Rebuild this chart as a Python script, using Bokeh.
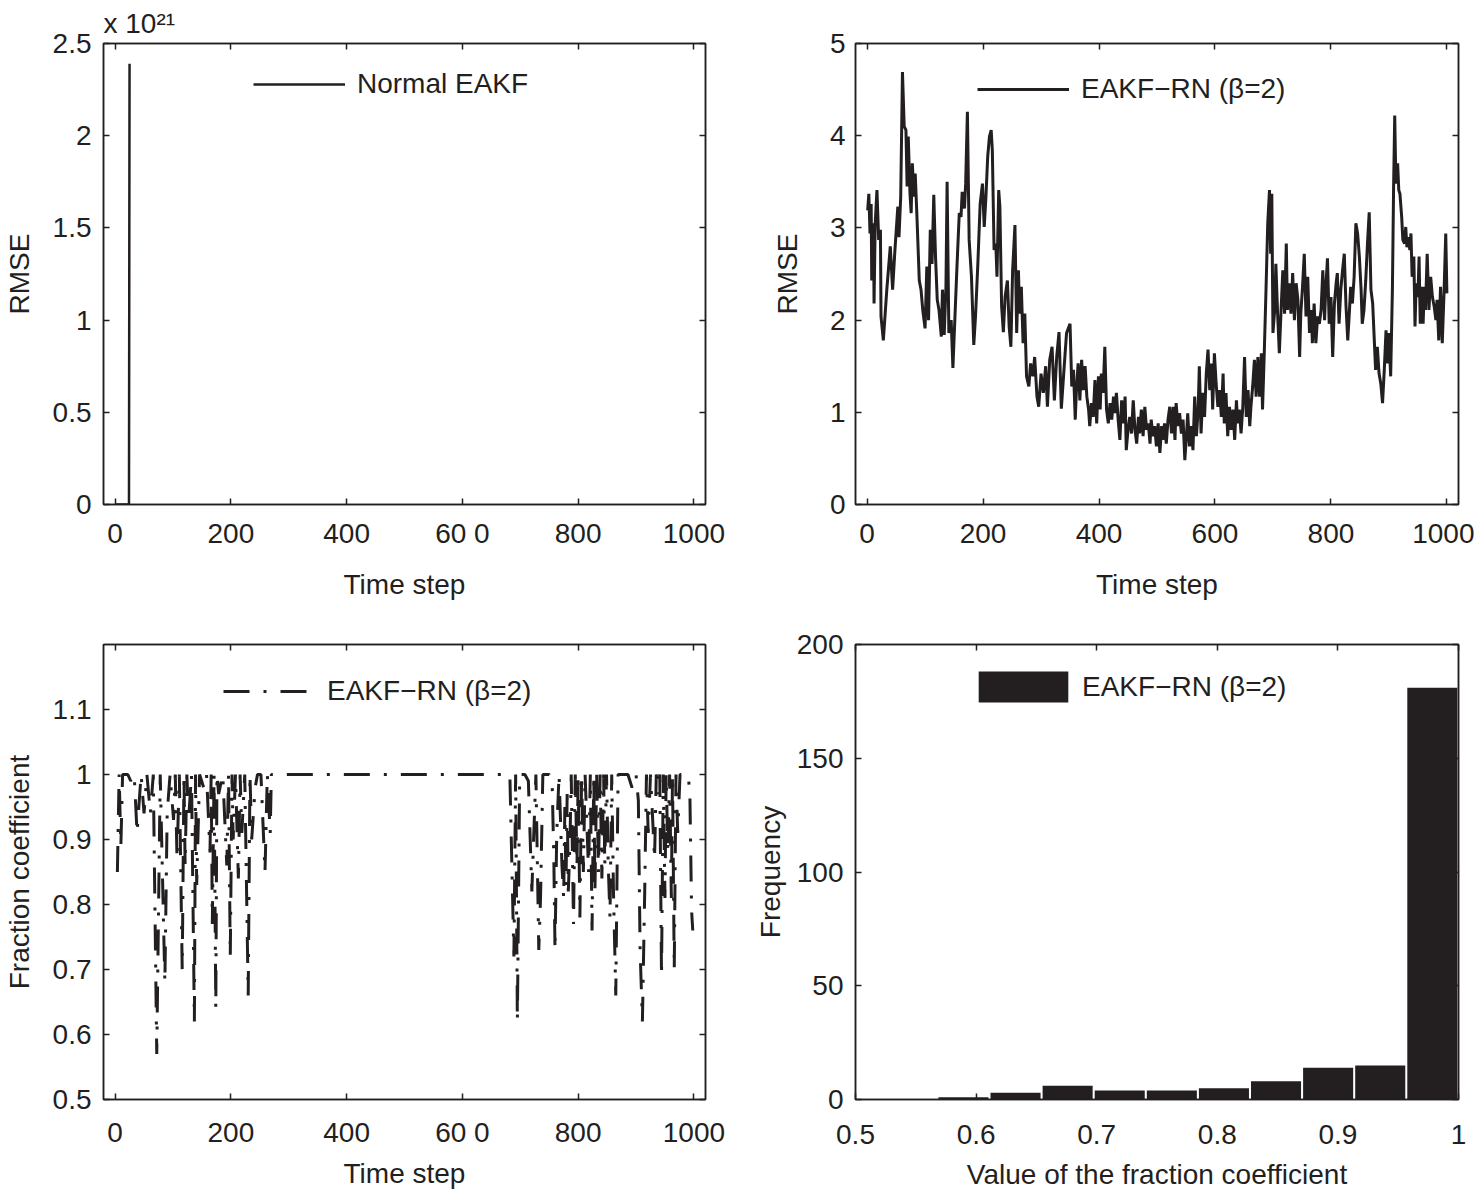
from bokeh.plotting import figure
from bokeh.layouts import column, row
from bokeh.models import (Range1d, FixedTicker, PrintfTickFormatter, CustomJSTickFormatter,
                          LinearAxis, Legend, LegendItem)
from bokeh.embed import file_html
from bokeh.resources import INLINE

INK = "#231f20"
FONT = "Liberation Sans"
FS = "28px"

time_ticks = [0, 200, 400, 600, 800, 1000]

# normal EAKF blows up after a few steps (values in absolute units, axis shows x 10^21)
normal_t = [1, 5, 10, 15, 20, 24, 25]
normal_rmse = [0, 0, 0, 0, 0, 0, 2.39e21]

# EAKF-RN (beta=2) RMSE as (time step, rmse)
rn_rmse = [
    (1, 3.19), (3, 3.37), (5, 2.94), (7, 3.26), (8, 2.43), (11, 3.05), (12, 2.18), (14, 3.05),
    (17, 3.41), (20, 2.87), (23, 2.98), (24, 2.04), (28, 1.78), (34, 2.33), (40, 2.80), (44, 2.33),
    (48, 2.76), (53, 3.23), (55, 2.90), (58, 3.34), (61, 4.69), (64, 4.10), (67, 4.06), (69, 3.45),
    (71, 3.99), (74, 3.37), (76, 3.16), (78, 3.70), (81, 3.34), (83, 3.59), (86, 3.12), (90, 2.43),
    (93, 2.33), (96, 2.11), (100, 1.91), (103, 2.58), (106, 2.00), (109, 2.98), (112, 2.61),
    (115, 3.36), (118, 2.69), (121, 2.22), (124, 2.11), (128, 1.82), (130, 2.33), (133, 1.84),
    (136, 2.36), (138, 3.50), (141, 1.86), (145, 2.00), (148, 1.48), (152, 2.11), (155, 2.58),
    (159, 3.16), (162, 3.12), (164, 3.39), (168, 3.21), (170, 3.48), (173, 4.26), (176, 2.87),
    (180, 2.47), (184, 1.73), (187, 2.04), (191, 2.61), (195, 3.26), (199, 3.48), (202, 3.01),
    (205, 3.34), (208, 3.77), (211, 3.99), (214, 4.06), (216, 3.84), (219, 2.76), (222, 2.83),
    (224, 2.47), (227, 3.41), (229, 3.23), (232, 2.15), (235, 1.87), (238, 2.25), (242, 2.43),
    (245, 1.93), (248, 1.71), (251, 2.54), (255, 3.03), (258, 1.86), (261, 2.54), (263, 2.07),
    (266, 2.36), (269, 1.75), (272, 2.07), (275, 1.39), (279, 1.28), (282, 1.53), (286, 1.39),
    (289, 1.60), (293, 1.17), (296, 1.06), (300, 1.42), (304, 1.21), (308, 1.50), (311, 1.06),
    (315, 1.57), (319, 1.71), (323, 1.13), (327, 1.60), (331, 1.87), (335, 1.04), (340, 1.50),
    (344, 1.86), (350, 1.96), (353, 1.28), (356, 1.46), (359, 0.92), (361, 1.24), (364, 1.53),
    (367, 1.13), (370, 1.57), (373, 1.24), (376, 1.50), (379, 1.17), (382, 1.03), (384, 0.85),
    (387, 1.10), (390, 0.95), (393, 1.35), (396, 0.88), (399, 1.39), (402, 1.03), (404, 1.42),
    (407, 1.21), (410, 1.71), (413, 1.03), (416, 0.88), (419, 1.10), (422, 0.92), (425, 1.17),
    (427, 0.99), (430, 1.21), (433, 0.92), (436, 0.70), (439, 1.13), (442, 0.88), (445, 1.17),
    (447, 0.59), (450, 0.81), (453, 0.95), (456, 0.77), (459, 1.13), (462, 0.81), (465, 0.66),
    (468, 0.95), (470, 0.77), (473, 1.03), (476, 0.74), (479, 1.06), (482, 0.81), (485, 0.88),
    (488, 0.66), (490, 0.92), (493, 0.74), (496, 0.85), (499, 0.63), (502, 0.88), (505, 0.56),
    (508, 0.85), (510, 0.70), (513, 0.88), (516, 0.66), (519, 0.92), (522, 1.06), (525, 0.77),
    (528, 1.06), (531, 0.70), (533, 1.10), (536, 0.85), (539, 0.99), (542, 0.77), (545, 0.92),
    (548, 0.48), (551, 0.77), (553, 0.99), (556, 0.63), (559, 0.85), (562, 0.59), (565, 1.17),
    (568, 0.74), (571, 1.03), (573, 1.50), (576, 0.77), (579, 1.21), (582, 0.95), (585, 1.42),
    (588, 1.68), (591, 1.24), (594, 1.53), (596, 1.03), (599, 1.64), (602, 1.31), (605, 1.06),
    (608, 1.24), (611, 0.95), (614, 1.42), (616, 0.88), (619, 1.21), (622, 0.74), (625, 1.06),
    (628, 0.81), (631, 1.03), (634, 0.70), (637, 1.13), (639, 0.88), (642, 1.03), (645, 0.77),
    (648, 1.06), (651, 1.60), (654, 0.95), (657, 1.24), (660, 0.85), (662, 1.06), (665, 1.28),
    (668, 1.57), (671, 1.17), (674, 1.60), (677, 1.17), (680, 1.64), (682, 1.03), (685, 1.64),
    (688, 2.33), (691, 3.05), (694, 3.41), (696, 2.72), (698, 3.37), (700, 1.86), (703, 2.11),
    (705, 2.61), (708, 2.07), (711, 1.64), (714, 2.11), (717, 2.54), (720, 2.07), (723, 2.83),
    (725, 2.11), (728, 2.40), (731, 2.07), (734, 2.51), (737, 2.00), (740, 2.40), (743, 2.22),
    (746, 1.60), (748, 2.07), (751, 2.36), (754, 2.72), (757, 2.04), (760, 2.47), (763, 1.86),
    (766, 2.11), (768, 1.75), (771, 2.18), (774, 1.75), (777, 2.04), (780, 1.96), (783, 2.11),
    (786, 2.54), (789, 2.00), (791, 2.33), (794, 2.67), (797, 1.96), (800, 2.25), (803, 1.60),
    (806, 2.18), (809, 2.40), (811, 2.51), (814, 1.96), (817, 2.33), (820, 2.54), (823, 2.72),
    (826, 2.15), (829, 1.78), (832, 2.11), (834, 2.36), (837, 2.18), (840, 2.47), (843, 3.05),
    (846, 2.94), (849, 2.69), (852, 2.33), (854, 1.96), (857, 2.11), (860, 2.43), (863, 2.83),
    (866, 3.17), (869, 2.33), (872, 2.18), (875, 1.75), (877, 1.46), (880, 1.71), (883, 1.42),
    (886, 1.31), (889, 1.10), (892, 1.46), (895, 1.89), (897, 1.53), (900, 1.86), (903, 1.39),
    (906, 2.33), (908, 3.41), (910, 4.22), (912, 3.48), (915, 3.70), (917, 3.41), (919, 3.37),
    (922, 3.12), (924, 2.87), (927, 2.83), (929, 3.01), (931, 2.79), (934, 2.90), (936, 2.76),
    (938, 2.94), (940, 2.47), (943, 2.69), (945, 1.93), (947, 2.40), (950, 2.25), (952, 2.69),
    (954, 1.96), (956, 2.36), (959, 1.96), (961, 2.36), (963, 2.11), (966, 2.72), (969, 2.11),
    (972, 2.47), (975, 2.25), (978, 2.15), (981, 2.00), (983, 2.22), (986, 1.78), (989, 2.36),
    (992, 1.75), (995, 2.29), (998, 2.94), (1000, 2.29),
]

# fraction coefficient of EAKF-RN, (time step, value)
fraction = [
    (4, 0.85), (7, 1.0), (10, 0.89), (13, 1.0), (17, 1.0), (22, 1.0), (27, 0.99), (33, 1.0),
    (38, 0.91), (41, 0.95), (45, 1.0), (50, 0.94), (55, 1.0), (61, 0.94), (66, 1.0), (72, 0.57),
    (78, 1.0), (86, 0.68), (90, 0.94), (95, 1.0), (101, 0.93), (104, 1.0), (107, 0.87), (111, 1.0),
    (116, 0.70), (119, 1.0), (121, 0.86), (124, 1.0), (127, 0.93), (132, 1.0), (137, 0.62),
    (139, 1.0), (141, 0.83), (146, 1.0), (153, 0.98), (158, 1.0), (164, 0.88), (166, 1.0),
    (168, 0.77), (171, 1.0), (174, 0.64), (176, 1.0), (179, 0.97), (186, 1.0), (193, 0.86),
    (196, 1.0), (199, 0.72), (202, 1.0), (204, 0.90), (208, 1.0), (213, 0.84), (216, 1.0),
    (219, 0.91), (224, 1.0), (230, 0.66), (233, 1.0), (236, 0.90), (242, 0.98), (246, 1.0),
    (252, 1.0), (259, 0.85), (263, 1.0), (268, 0.91), (270, 1.0), (275, 1.0),
    (682, 1.0), (689, 0.72), (692, 1.0), (695, 0.62), (699, 1.0), (708, 1.0), (714, 0.99),
    (720, 0.82), (723, 0.90), (727, 1.0), (732, 0.73), (735, 0.81), (739, 1.0), (750, 1.0),
    (755, 0.99), (758, 0.87), (760, 0.73), (763, 0.91), (767, 1.0), (772, 0.86), (775, 0.81),
    (777, 0.95), (779, 0.83), (781, 0.97), (783, 0.82), (786, 0.90), (788, 1.0), (792, 0.77),
    (795, 1.0), (798, 0.86), (800, 1.0), (803, 0.78), (806, 1.0), (809, 0.85), (812, 1.0),
    (818, 0.85), (821, 1.0), (824, 0.76), (827, 1.0), (829, 0.82), (832, 1.0), (835, 0.85),
    (838, 1.0), (841, 0.84), (844, 1.0), (846, 0.86), (849, 1.0), (852, 0.86), (855, 0.78),
    (858, 1.0), (861, 0.82), (865, 0.66), (869, 1.0), (880, 1.0), (886, 1.0), (893, 0.98),
    (900, 1.0), (904, 0.96), (907, 0.73), (911, 0.62), (915, 0.82), (918, 1.0), (921, 0.91),
    (925, 1.0), (932, 0.87), (935, 1.0), (938, 0.97), (941, 1.0), (944, 0.69), (947, 1.0),
    (950, 0.81), (952, 1.0), (955, 0.88), (958, 1.0), (961, 0.81), (963, 1.0), (966, 0.70),
    (969, 1.0), (972, 0.91), (976, 1.0), (985, 1.0), (990, 1.0), (993, 0.97), (996, 0.79),
    (998, 0.76),
]

# histogram of the fraction coefficient
hist_centers = [0.5895, 0.6327, 0.6759, 0.7191, 0.7623, 0.8055, 0.8487, 0.8919, 0.9351, 0.9783]
hist_counts = [1, 3, 6, 4, 4, 5, 8, 14, 15, 181]


def style_axis(ax, ticks, standoff, label_standoff=0):
    ax.ticker = FixedTicker(ticks=ticks)
    ax.axis_line_color = INK
    ax.axis_line_width = 1.5
    ax.major_tick_line_color = INK
    ax.major_tick_line_width = 1.5
    ax.major_tick_in = 6
    ax.major_tick_out = 0
    ax.minor_tick_line_color = None
    ax.major_label_standoff = standoff
    ax.major_label_text_font = FONT
    ax.major_label_text_font_size = FS
    ax.major_label_text_color = INK
    ax.axis_label_standoff = label_standoff
    ax.axis_label_text_font = FONT
    ax.axis_label_text_font_size = FS
    ax.axis_label_text_font_style = "normal"
    ax.axis_label_text_color = INK


def mirror_axes(p, xticks, yticks):
    # matlab box: ticks on top and right too, no labels
    for loc, ticks in (("above", xticks), ("right", yticks)):
        ax = LinearAxis(formatter=CustomJSTickFormatter(code="return ''"))
        style_axis(ax, ticks, 0)
        ax.major_label_text_font_size = "1px"
        p.add_layout(ax, loc)


def make_plot(width, height, borders, x_range, y_range):
    left, right, top, bottom = borders
    p = figure(width=width, height=height, x_range=x_range, y_range=y_range,
               output_backend="svg", toolbar_location=None,
               min_border_left=left, min_border_right=right,
               min_border_top=top, min_border_bottom=bottom)
    p.grid.visible = False
    p.outline_line_color = INK
    p.outline_line_width = 1.5
    return p


def add_legend(p, label, renderer, loc, glyph_w=92, glyph_h=32, standoff=12):
    leg = Legend(items=[LegendItem(label=label, renderers=[renderer])], location=loc,
                 padding=0, margin=0, spacing=0, glyph_width=glyph_w, glyph_height=glyph_h,
                 label_height=glyph_h, label_standoff=standoff,
                 label_text_font=FONT, label_text_font_size=FS, label_text_color=INK,
                 border_line_color=None, background_fill_alpha=0)
    p.add_layout(leg)


def js_formatter(code):
    return CustomJSTickFormatter(code=code)


# the left panels of the source print the 600 label as "60 0"
left_time_fmt = "return tick == 600 ? '60 0' : tick.toFixed(0)"
right_time_fmt = "return tick.toFixed(0)"

rn_label = "EAKF\u2212RN (\u03b2=2)"

# top left: normal EAKF
p1 = make_plot(745, 610, (102, 40, 43, 106), Range1d(-20, 1020), Range1d(0, 2.5))
r1 = p1.line(normal_t, [v / 1e21 for v in normal_rmse], line_width=2.5, color=INK)
style_axis(p1.xaxis[0], time_ticks, 13, 17)
style_axis(p1.yaxis[0], [0, 0.5, 1, 1.5, 2, 2.5], 12, 15)
p1.xaxis[0].formatter = js_formatter(left_time_fmt)
p1.yaxis[0].formatter = PrintfTickFormatter(format="%g")
p1.xaxis[0].axis_label = "Time step"
p1.yaxis[0].axis_label = "RMSE"
mirror_axes(p1, time_ticks, [0, 0.5, 1, 1.5, 2, 2.5])
add_legend(p1, "Normal EAKF", r1, (150, 404))
# scale factor of the y axis
p1.title.text = "x 10\u00b2\u00b9"
p1.title.align = "left"
p1.title.standoff = 10
p1.title.text_font = FONT
p1.title.text_font_size = FS
p1.title.text_font_style = "normal"
p1.title.text_color = INK

# top right: EAKF-RN rmse
p2 = make_plot(729, 610, (110, 16, 43, 106), Range1d(-20, 1020), Range1d(0, 5))
r2 = p2.line([t for t, v in rn_rmse], [v for t, v in rn_rmse], line_width=3, color=INK)
style_axis(p2.xaxis[0], time_ticks, 19, 23)
style_axis(p2.yaxis[0], [0, 1, 2, 3, 4, 5], 10, 24)
p2.xaxis[0].formatter = js_formatter(right_time_fmt)
p2.xaxis[0].axis_label = "Time step"
p2.yaxis[0].axis_label = "RMSE"
mirror_axes(p2, time_ticks, [0, 1, 2, 3, 4, 5])
add_legend(p2, rn_label, r2, (122, 399))

# bottom left: fraction coefficient
frac_ticks = [0.5, 0.6, 0.7, 0.8, 0.9, 1.0, 1.1]
p3 = make_plot(745, 582, (102, 40, 34, 88), Range1d(-20, 1020), Range1d(0.5, 1.2))
r3 = p3.line([t for t, v in fraction], [v for t, v in fraction], line_width=3, color=INK,
             line_dash="26 14 3 14")
style_axis(p3.xaxis[0], time_ticks, 17, 7)
style_axis(p3.yaxis[0], frac_ticks, 12, 15)
p3.xaxis[0].formatter = js_formatter(left_time_fmt)
p3.yaxis[0].formatter = PrintfTickFormatter(format="%g")
p3.xaxis[0].axis_label = "Time step"
p3.yaxis[0].axis_label = "Fraction coefficient"
mirror_axes(p3, time_ticks, frac_ticks)
add_legend(p3, rn_label, r3, (120, 392))

# bottom right: histogram
value_ticks = [0.5, 0.6, 0.7, 0.8, 0.9, 1.0]
p4 = make_plot(729, 582, (110, 16, 34, 88), Range1d(0.5, 1.0), Range1d(0, 200))
r4 = p4.vbar(x=hist_centers, top=hist_counts, width=0.0415, fill_color=INK, line_color=None)
style_axis(p4.xaxis[0], value_ticks, 25, 12)
style_axis(p4.yaxis[0], [0, 50, 100, 150, 200], 12, 8)
p4.xaxis[0].formatter = js_formatter("return String(Math.round(tick * 10) / 10)")
p4.xaxis[0].axis_label = "Value of the fraction coefficient"
p4.yaxis[0].axis_label = "Frequency"
mirror_axes(p4, value_ticks, [0, 50, 100, 150, 200])
add_legend(p4, rn_label, r4, (112, 393), glyph_w=112, glyph_h=39, standoff=3)

layout = column(row(p1, p2), row(p3, p4))
open("out.html", "w").write(file_html(layout, INLINE))
